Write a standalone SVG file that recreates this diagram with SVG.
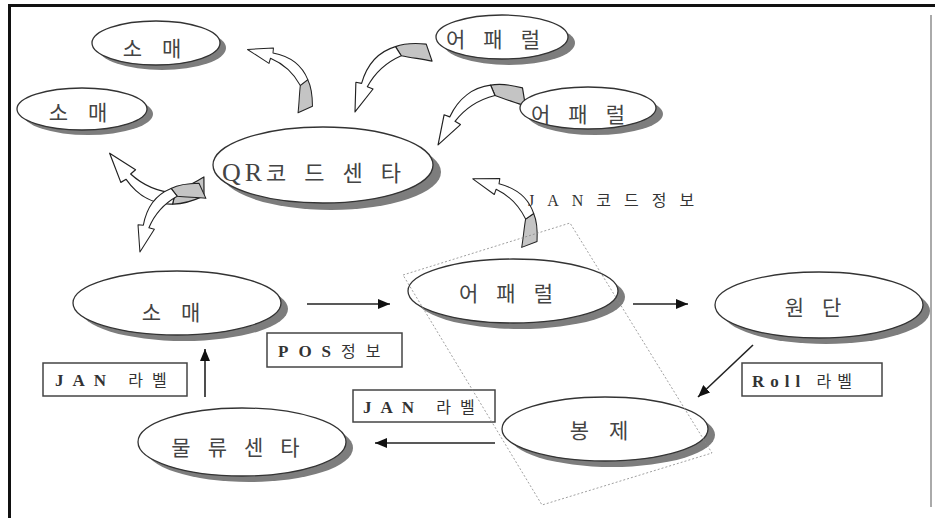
<svg xmlns="http://www.w3.org/2000/svg" xmlns:xlink="http://www.w3.org/1999/xlink" width="935" height="518" viewBox="0 0 935 518">
<style>
.sh{fill:#7d7d7d;stroke:none}
.el{fill:#fff;stroke:#333;stroke-width:1.3}
.kt{font-family:"Liberation Serif","Noto Sans CJK KR",serif;font-size:21px;fill:#444;text-anchor:middle}
.bx{fill:#fff;stroke:#444;stroke-width:1.5}
.lt{font-family:"Liberation Serif","Noto Sans CJK KR",serif;font-size:16px;fill:#333}
.lb{font-weight:bold;font-size:17px}
.ar{stroke:#222;stroke-width:1.6;fill:none}
.rg{fill:#c4c4c4;stroke:#222;stroke-width:1;stroke-linejoin:round}
.rw{fill:#fff;stroke:#222;stroke-width:1;stroke-linejoin:round}
</style>
<defs>
<marker id="ah" viewBox="0 0 12 10" refX="12" refY="5" markerWidth="12" markerHeight="10" markerUnits="userSpaceOnUse" orient="auto">
<path d="M0,0 L12,5 L0,10 Z" fill="#111"/>
</marker>
<g id="ribbon">
<path class="rg" d="M-8,0 L7,-5 C8,-15 8,-24 5,-32 L-3,-27 C-5,-18 -6,-9 -8,0 Z"/>
<path class="rw" d="M-3,-27 L5,-32 C1,-46 -10,-57 -27,-62 L-26,-67 L-52,-68 L-32,-52 L-30,-57 C-19,-51 -9,-41 -3,-27 Z"/>
</g>
</defs>
<rect x="0" y="0" width="935" height="518" fill="#fff"/>
<!-- frame -->
<line x1="8" y1="5.5" x2="935" y2="5.5" stroke="#111" stroke-width="3"/>
<line x1="9.5" y1="4" x2="9.5" y2="518" stroke="#111" stroke-width="3"/>
<line x1="931" y1="15" x2="931" y2="507" stroke="#aaa" stroke-width="2"/>

<g id="connectors">
<use xlink:href="#ribbon" transform="translate(306,112) rotate(-5.7)"/>
<use xlink:href="#ribbon" transform="translate(432,52) rotate(-90.5) scale(1.14)"/>
<use xlink:href="#ribbon" transform="translate(527,97) rotate(-80.9) scale(1.18)"/>
<use xlink:href="#ribbon" transform="translate(530,247) rotate(-2.6) scale(1.04)"/>
<use xlink:href="#ribbon" transform="translate(207,186) rotate(71.2) scale(1.2,-1.2)"/>
<use xlink:href="#ribbon" transform="translate(205,190) rotate(-96.2) scale(1.05)"/>
<line class="ar" x1="307" y1="304" x2="390" y2="304" marker-end="url(#ah)"/>
<line class="ar" x1="633" y1="304" x2="688" y2="304" marker-end="url(#ah)"/>
<line class="ar" x1="753" y1="345" x2="698" y2="397" marker-end="url(#ah)"/>
<line class="ar" x1="495" y1="443" x2="375" y2="443" stroke="#666" marker-end="url(#ah)"/>
<line class="ar" x1="205" y1="397" x2="205" y2="349" marker-end="url(#ah)"/>
</g>

<g id="n-retail-top">
<ellipse class="sh" cx="162" cy="48" rx="64" ry="22"/>
<ellipse class="el" cx="156" cy="43" rx="64" ry="22"/>
<text class="kt" x="162" y="56" letter-spacing="20">소매</text>
</g>
<g id="n-retail-left">
<ellipse class="sh" cx="88" cy="114" rx="65" ry="21"/>
<ellipse class="el" cx="82" cy="109" rx="65" ry="21"/>
<text class="kt" x="88" y="120" letter-spacing="20">소매</text>
</g>
<g id="n-qr">
<ellipse class="sh" cx="331" cy="172" rx="110" ry="38"/>
<ellipse class="el" cx="323" cy="165" rx="110" ry="38"/>
<text class="kt" x="222" y="181" style="text-anchor:start"><tspan font-size="26" letter-spacing="4">QR</tspan><tspan x="266" font-size="22" letter-spacing="18">코드센타</tspan></text>
</g>
<g id="n-apparel-top">
<ellipse class="sh" cx="509" cy="43" rx="66" ry="22"/>
<ellipse class="el" cx="502" cy="37" rx="66" ry="22"/>
<text class="kt" x="502" y="47" letter-spacing="18">어패럴</text>
</g>
<g id="n-apparel-2">
<ellipse class="sh" cx="595" cy="114" rx="68" ry="21"/>
<ellipse class="el" cx="588" cy="108" rx="68" ry="21"/>
<text class="kt" x="587" y="122" letter-spacing="18">어패럴</text>
</g>
<g id="n-retail">
<ellipse class="sh" cx="184" cy="309" rx="104" ry="32"/>
<ellipse class="el" cx="177" cy="303" rx="104" ry="32"/>
<text class="kt" x="181" y="320" letter-spacing="20">소매</text>
</g>
<g id="n-apparel">
<ellipse class="sh" cx="520" cy="297" rx="105" ry="32"/>
<ellipse class="el" cx="513" cy="291" rx="105" ry="32"/>
<text class="kt" x="515" y="301" letter-spacing="18">어패럴</text>
</g>
<g id="n-fabric">
<ellipse class="sh" cx="826" cy="311" rx="104" ry="33"/>
<ellipse class="el" cx="819" cy="305" rx="104" ry="33"/>
<text class="kt" x="822" y="315" letter-spacing="18">원단</text>
</g>
<g id="n-sewing">
<ellipse class="sh" cx="612" cy="435" rx="103" ry="32"/>
<ellipse class="el" cx="605" cy="429" rx="103" ry="32"/>
<text class="kt" x="609" y="438" letter-spacing="20">봉제</text>
</g>
<g id="n-logistics">
<ellipse class="sh" cx="249" cy="448" rx="104" ry="34"/>
<ellipse class="el" cx="242" cy="442" rx="104" ry="34"/>
<text class="kt" x="244" y="455" letter-spacing="17">물류센타</text>
</g>

<g id="l-jancode">
<text class="lt" x="528" y="206" font-size="17" fill="#555" letter-spacing="13">JAN코드정보</text>
</g>
<g id="l-pos">
<rect class="bx" x="267" y="333" width="135" height="34"/>
<text class="lt" x="278" y="357" letter-spacing="10"><tspan class="lb">POS</tspan>정보</text>
</g>
<g id="l-jan1">
<rect class="bx" x="43" y="363" width="144" height="33"/>
<text class="lt" x="55" y="386" letter-spacing="9"><tspan class="lb">JAN </tspan>라벨</text>
</g>
<g id="l-jan2">
<rect class="bx" x="353" y="390" width="142" height="32"/>
<text class="lt" x="363" y="413" letter-spacing="9"><tspan class="lb">JAN </tspan>라벨</text>
</g>
<g id="l-roll">
<rect class="bx" x="742" y="363" width="140" height="33"/>
<text class="lt" x="752" y="387" letter-spacing="6"><tspan class="lb">Roll </tspan>라벨</text>
</g>

<polygon points="403,275 570,223 712,453 542,505" fill="none" stroke="#888" stroke-width="0.8" stroke-dasharray="2,2"/>
</svg>
